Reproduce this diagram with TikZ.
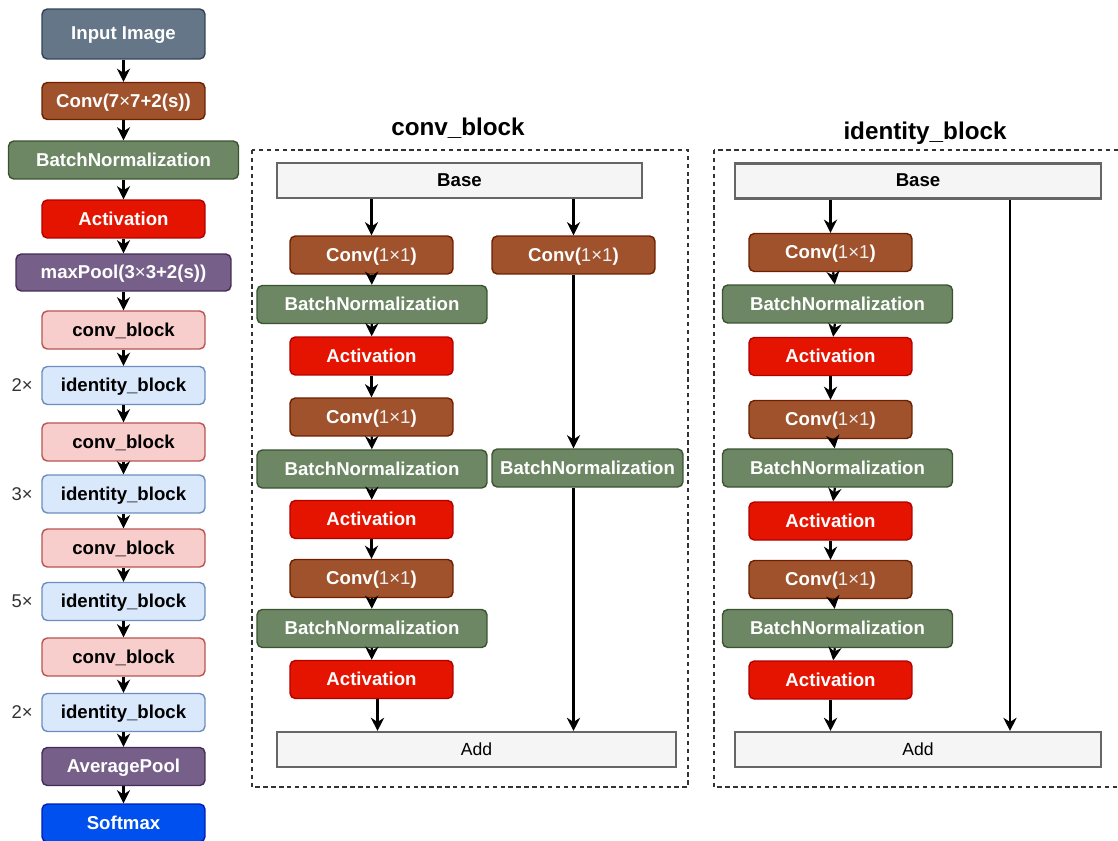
\documentclass[tikz,border=0pt]{standalone}
\usepackage{fontspec}
\setmainfont{Liberation Sans}
\usetikzlibrary{arrows.meta,positioning}

\definecolor{inputfill}{HTML}{647687}
\definecolor{inputline}{HTML}{314354}
\definecolor{convfill}{HTML}{A0522D}
\definecolor{convline}{HTML}{6D1F00}
\definecolor{bnfill}{HTML}{6D8764}
\definecolor{bnline}{HTML}{3A5431}
\definecolor{actfill}{HTML}{E51400}
\definecolor{actline}{HTML}{B20000}
\definecolor{poolfill}{HTML}{76608A}
\definecolor{poolline}{HTML}{432D57}
\definecolor{cbfill}{HTML}{F8CECC}
\definecolor{cbline}{HTML}{B85450}
\definecolor{ibfill}{HTML}{DAE8FC}
\definecolor{ibline}{HTML}{6C8EBF}
\definecolor{smfill}{HTML}{0050EF}
\definecolor{smline}{HTML}{001DBC}
\definecolor{basefill}{HTML}{F5F5F5}
\definecolor{baseline}{HTML}{666666}

\tikzset{
	box/.style={rectangle, rounded corners=3pt, line width=0.8pt, inner sep=0pt,
		minimum width=3.26cm, minimum height=0.76cm, text=white, text depth=0.5pt,
		font=\bfseries\fontsize{10.6}{12}\selectfont},
	wide/.style={minimum width=4.6cm},
	inputbox/.style={box, fill=inputfill, draw=inputline, minimum height=1cm},
	convbox/.style={box, fill=convfill, draw=convline},
	bnbox/.style={box, fill=bnfill, draw=bnline, wide},
	actbox/.style={box, fill=actfill, draw=actline},
	poolbox/.style={box, fill=poolfill, draw=poolline},
	cbbox/.style={box, fill=cbfill, draw=cbline, text=black},
	ibbox/.style={box, fill=ibfill, draw=ibline, text=black},
	smbox/.style={box, fill=smfill, draw=smline},
	basebox/.style={rectangle, fill=basefill, draw=baseline, line width=1.2pt,
		minimum height=0.7cm, inner sep=0pt, text depth=0.5pt,
		font=\bfseries\fontsize{10.6}{12}\selectfont},
	addbox/.style={basebox, font=\fontsize{10}{12}\selectfont},
	frame/.style={draw=black!80, line width=0.8pt, dash pattern=on 2.5pt off 2pt},
	title/.style={font=\bfseries\fontsize{13.8}{16}\selectfont},
	mult/.style={text=black!80, font=\fontsize{10.5}{12}\selectfont},
	arr/.style={-{Stealth[length=7.5pt,width=7.5pt]}, line width=1.3pt},
}
\newcommand{\onebyone}{Conv({\mdseries\color{white!88!gray}1×1})}

\begin{document}
\begin{tikzpicture}[x=0.02cm, y=-0.02cm]
	\path[use as bounding box, clip] (0,0) rectangle (1118,841);

	\node[inputbox] (in) at (123.5,34) {Input Image};
	\node[convbox, minimum height=0.74cm] (c7) at (123.5,101) {Conv(7{\mdseries×}7+2(s))};
	\node[bnbox] (bn) at (123.5,160) {BatchNormalization};
	\node[actbox] (act) at (123.5,219) {Activation};
	\node[poolbox, minimum width=4.3cm, minimum height=0.74cm] (mp) at (123.5,272.5) {maxPool(3{\mdseries×}3+2(s))};
	\node[cbbox] (cb1) at (123.5,330) {conv\_block};
	\node[ibbox] (ib1) at (123.5,385.5) {identity\_block};
	\node[cbbox] (cb2) at (123.5,442) {conv\_block};
	\node[ibbox] (ib2) at (123.5,494) {identity\_block};
	\node[cbbox] (cb3) at (123.5,548) {conv\_block};
	\node[ibbox] (ib3) at (123.5,601.5) {identity\_block};
	\node[cbbox] (cb4) at (123.5,657) {conv\_block};
	\node[ibbox] (ib4) at (123.5,712.5) {identity\_block};
	\node[poolbox] (ap) at (123.5,766.5) {AveragePool};
	\node[smbox] (sm) at (123.5,823) {Softmax};

	\node[mult, left=0.05cm of ib1] {2×};
	\node[mult, left=0.05cm of ib2] {3×};
	\node[mult, left=0.05cm of ib3] {5×};
	\node[mult, left=0.05cm of ib4] {2×};

	\foreach \a/\b in {in/c7, c7/bn, bn/act, act/mp, mp/cb1, cb1/ib1, ib1/cb2, cb2/ib2,
		ib2/cb3, cb3/ib3, ib3/cb4, cb4/ib4, ib4/ap, ap/sm}
		\draw[arr] (\a) -- (\b);

	\node[title] (cbTitle) at (458,128) {conv\_block};
	\draw[frame] (252,150) rectangle (688,787);
	\node[basebox, minimum width=7.3cm] (cbBase) at (459.5,180.5) {Base};
	\node[convbox] (cbConvA) at (371.5,255) {\onebyone};
	\node[bnbox] (cbBnA) at (372,304.5) {BatchNormalization};
	\node[actbox] (cbActA) at (371.5,356) {Activation};
	\node[convbox] (cbConvB) at (371.5,417) {\onebyone};
	\node[bnbox] (cbBnB) at (372,469) {BatchNormalization};
	\node[actbox] (cbActB) at (371.5,519.5) {Activation};
	\node[convbox] (cbConvC) at (371.5,578.5) {\onebyone};
	\node[bnbox] (cbBnC) at (372,628.5) {BatchNormalization};
	\node[actbox] (cbActC) at (371.5,679.5) {Activation};
	\node[convbox] (cbConvS) at (573.5,255) {\onebyone};
	\node[bnbox, minimum width=3.82cm] (cbBnS) at (587.5,468) {BatchNormalization};
	\node[addbox, minimum width=7.98cm] (cbAdd) at (476.5,749.5) {Add};

	\draw[arr] (cbConvA |- cbBase.south) -- (cbConvA);
	\foreach \a/\b in {cbConvA/cbBnA, cbBnA/cbActA, cbActA/cbConvB, cbConvB/cbBnB,
		cbBnB/cbActB, cbActB/cbConvC, cbConvC/cbBnC, cbBnC/cbActC}
		\draw[arr] (\a) -- (\b);
	\draw[arr] ([xshift=0.12cm]cbActC.south) -- ([xshift=0.12cm]cbActC.south |- cbAdd.north);
	\draw[arr] (cbConvS |- cbBase.south) -- (cbConvS);
	\draw[arr] (cbConvS) -- (cbConvS |- cbBnS.north);
	\draw[arr] (cbConvS |- cbBnS.south) -- (cbConvS |- cbAdd.north);

	\node[title] (idTitle) at (925,133) {identity\_block};
	\draw[frame] (714,150) rectangle (1125,787);
	\node[basebox, minimum width=7.32cm] (idBase) at (918,181) {Base};
	\node[convbox] (idConvA) at (830.5,252.5) {\onebyone};
	\node[bnbox] (idBnA) at (837.5,304) {BatchNormalization};
	\node[actbox] (idActA) at (830.5,356.5) {Activation};
	\node[convbox] (idConvB) at (830.5,419.5) {\onebyone};
	\node[bnbox] (idBnB) at (837.5,468) {BatchNormalization};
	\node[actbox] (idActB) at (830.5,521) {Activation};
	\node[convbox] (idConvC) at (830.5,579.5) {\onebyone};
	\node[bnbox] (idBnC) at (837.5,628.5) {BatchNormalization};
	\node[actbox] (idActC) at (830.5,680) {Activation};
	\node[addbox, minimum width=7.32cm] (idAdd) at (918,749.5) {Add};

	\draw[arr] (idConvA |- idBase.south) -- (idConvA);
	\foreach \a/\b in {idConvA/idBnA, idBnA/idActA, idActA/idConvB, idConvB/idBnB,
		idBnB/idActB, idActB/idConvC, idConvC/idBnC, idBnC/idActC}
		\draw[arr] (\a) -- (\b);
	\draw[arr] (idActC) -- (idActC |- idAdd.north);
	\draw[arr] ([xshift=1.84cm]idBase.south) -- ([xshift=1.84cm]idAdd.north);
\end{tikzpicture}
\end{document}
